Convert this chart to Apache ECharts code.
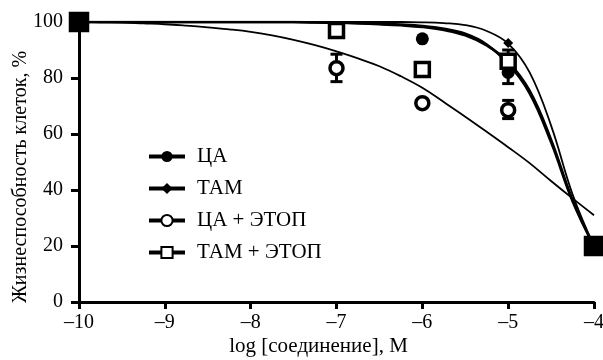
<!DOCTYPE html>
<html>
<head>
<meta charset="utf-8">
<script src="https://cdn.jsdelivr.net/npm/echarts@6/dist/echarts.min.js"></script>
<style>
  html, body { margin: 0; padding: 0; background: #fff; }
  #chart { width: 603px; height: 360px; }
</style>
</head>
<body>
<div id="chart"></div>
<script>
// x ticks (log M) and y ticks (%)
const xTicks = [-10, -9, -8, -7, -6, -5, -4];
const yTicks = [0, 20, 40, 60, 80, 100];

// fitted curves, every 0.25 log units
const curveX = [-10, -9.75, -9.5, -9.25, -9, -8.75, -8.5, -8.25, -8, -7.75, -7.5, -7.25, -7,
                -6.75, -6.5, -6.25, -6, -5.75, -5.5, -5.25, -5, -4.75, -4.5, -4.25, -4];
const curveCA      = [100, 100, 100, 100, 100, 100, 100, 100, 100, 100, 100, 99.9, 99.8,
                      99.7, 99.4, 99.1, 98.6, 97.6, 95.8, 92, 85, 74.5, 57, 36, 20];
const curveTAM     = [100, 100, 100, 100, 100, 100, 100, 100, 100, 100, 100, 100, 100,
                      100, 100, 100, 99.9, 99.6, 98.9, 96.8, 92.3, 82, 63, 38.5, 20];
const curveCAEtop  = [100, 99.9, 99.8, 99.5, 99.2, 98.7, 98.1, 97.4, 96.5, 95.2, 93.6, 91.7, 89.5,
                      87, 84.2, 80.6, 76.5, 71.4, 66.2, 60.8, 55.3, 49.6, 43.2, 37, 31];
const curveTAMEtop = [100, 100, 100, 100, 100, 100, 100, 100, 100, 100, 100, 99.8, 99.7,
                      99.5, 99.2, 98.8, 98.2, 97.1, 95.2, 91.6, 85.8, 75.5, 58, 36.5, 20];

// measured points
const caX = [-10, -6, -5, -4];
const caY = [100, 94, 82, 20];
const tamX = [-10, -5, -4];
const tamY = [100, 92.5, 20];
const caEtopX = [-10, -7, -6, -5, -4];
const caEtopY = [100, 83.5, 71, 68.5, 20];
const tamEtopX = [-10, -7, -6, -5, -4];
const tamEtopY = [100, 97, 83, 86, 20];

// error bars: x, low, high
const errX    = [-7, -5, -5, -5];
const errLow  = [78.7, 65.5, 78, 82];
const errHigh = [88.5, 72, 86, 90];

const names = ['ЦА', 'ТАМ', 'ЦА + ЭТОП', 'ТАМ + ЭТОП'];

const FONT = '"Liberation Serif", "Times New Roman", serif';

const zip = (xs, ys) => xs.map((x, i) => [x, ys[i]]);

const symbols = [
    { symbol: 'circle', size: 13, itemStyle: { color: '#000', opacity: 1 } },
    { symbol: 'diamond', size: 10, itemStyle: { color: '#000', opacity: 1 } },
    { symbol: 'circle', size: 13, itemStyle: { color: '#fff', borderColor: '#000', borderWidth: 3.5, opacity: 1 } },
    { symbol: 'rect', size: 14, itemStyle: { color: '#fff', borderColor: '#000', borderWidth: 3.5, opacity: 1 } },
];
const curves = [curveCA, curveTAM, curveCAEtop, curveTAMEtop];
const pts = [zip(caX, caY), zip(tamX, tamY), zip(caEtopX, caEtopY), zip(tamEtopX, tamEtopY)];

const series = [];
// curve lines (first so legend takes line+symbol icon)
names.forEach((n, i) => {
    series.push({
        name: n,
        type: 'line',
        data: zip(curveX, curves[i]),
        smooth: 0.4,
        showSymbol: false,
        symbol: symbols[i].symbol,
        symbolSize: symbols[i].size,
        itemStyle: symbols[i].itemStyle,
        lineStyle: { color: '#000', width: i === 1 || i === 2 ? 1.8 : 2.5 },
        silent: true,
        z: 2,
    });
});

// error bars
series.push({
    type: 'custom',
    silent: true,
    z: 3,
    data: errX.map((x, i) => [x, errLow[i], errHigh[i]]),
    renderItem: (params, api) => {
        const lo = api.coord([api.value(0), api.value(1)]);
        const hi = api.coord([api.value(0), api.value(2)]);
        const w = 6;
        const style = { stroke: '#000', lineWidth: 3 };
        return {
            type: 'group',
            children: [
                { type: 'line', shape: { x1: lo[0], y1: lo[1], x2: hi[0], y2: hi[1] }, style },
                { type: 'line', shape: { x1: lo[0] - w, y1: lo[1], x2: lo[0] + w, y2: lo[1] }, style },
                { type: 'line', shape: { x1: hi[0] - w, y1: hi[1], x2: hi[0] + w, y2: hi[1] }, style },
            ],
        };
    },
});

// data points
names.forEach((n, i) => {
    series.push({
        name: n,
        type: 'scatter',
        symbol: symbols[i].symbol,
        symbolSize: symbols[i].size,
        itemStyle: symbols[i].itemStyle,
        data: pts[i].map(p => {
            // end points look like solid squares
            if (i === 3 && (p[0] === -10 || p[0] === -4)) {
                return { value: p, symbolSize: 17, itemStyle: { color: '#000', borderColor: '#000' } };
            }
            return p;
        }),
        silent: true,
        z: 4 + i,
    });
});

const chart = echarts.init(document.getElementById('chart'), null, { renderer: 'canvas' });
chart.setOption({
    animation: false,
    backgroundColor: '#fff',
    textStyle: { fontFamily: FONT, color: '#000' },
    grid: { left: 79, right: 9, top: 22, bottom: 58, containLabel: false, outerBoundsMode: 'none' },
    legend: {
        data: names,
        orient: 'vertical',
        left: 142,
        top: 141,
        itemWidth: 36,
        itemHeight: 14,
        itemGap: 11,
        lineStyle: { width: 4 },
        textStyle: { fontFamily: FONT, fontSize: 21, color: '#000', padding: [0, 0, 0, 7], lineHeight: 19 },
        selectedMode: false,
    },
    xAxis: {
        type: 'value',
        min: xTicks[0],
        max: xTicks[xTicks.length - 1],
        interval: 1,
        name: 'log [соединение], М',
        nameLocation: 'middle',
        nameGap: 34,
        nameMoveOverlap: false,
        nameTextStyle: { fontFamily: FONT, fontSize: 21, color: '#000', padding: [0, 36, 0, 0] },
        axisLine: { onZero: false, lineStyle: { color: '#000', width: 3 } },
        axisTick: { length: 7, lineStyle: { color: '#000', width: 3 } },
        axisLabel: {
            fontFamily: FONT, fontSize: 20, color: '#000', margin: 11,
            formatter: v => (v < 0 ? '–' + Math.abs(v) : String(v)),
        },
        splitLine: { show: false },
    },
    yAxis: {
        type: 'value',
        min: yTicks[0],
        max: yTicks[yTicks.length - 1],
        interval: 20,
        name: 'Жизнеспособность клеток, %',
        nameLocation: 'middle',
        nameRotate: 90,
        nameGap: 48,
        nameMoveOverlap: false,
        nameTextStyle: { fontFamily: FONT, fontSize: 20, color: '#000', padding: [0, 30, 0, 0] },
        axisLine: { show: true, lineStyle: { color: '#000', width: 3 } },
        axisTick: { show: true, length: 8, lineStyle: { color: '#000', width: 3 } },
        axisLabel: { fontFamily: FONT, fontSize: 20, color: '#000', margin: 16 },
        splitLine: { show: false },
    },
    series,
});
</script>
</body>
</html>
